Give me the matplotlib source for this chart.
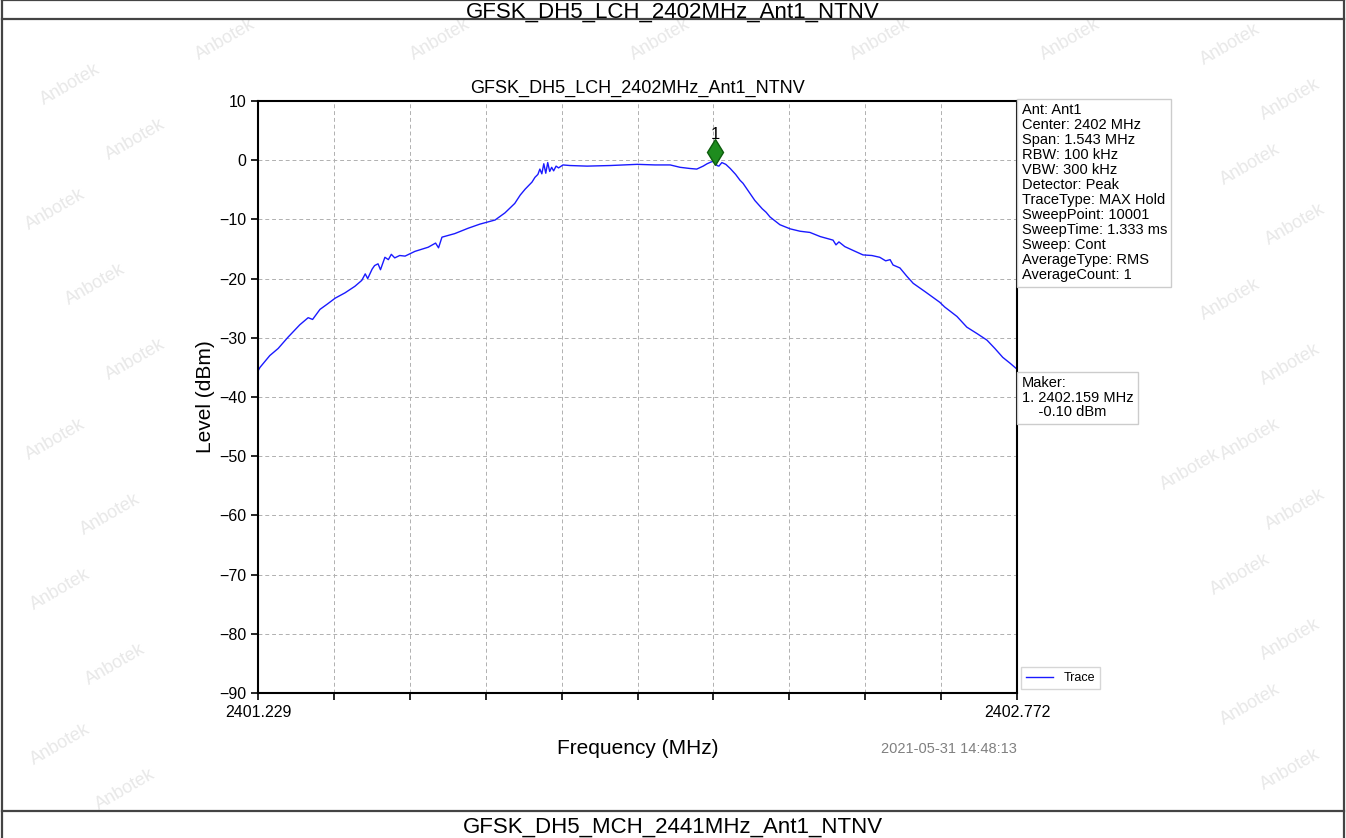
import matplotlib.pyplot as plt
from matplotlib.lines import Line2D

plt.rcParams['font.family'] = ['Liberation Sans', 'DejaVu Sans']

titulo = "GFSK_DH5_LCH_2402MHz_Ant1_NTNV"
titulo_seguinte = "GFSK_DH5_MCH_2441MHz_Ant1_NTNV"

freq_inicio = 2401.229
freq_fim = 2402.772

freqs = [
    2401.229, 2401.233, 2401.253, 2401.270, 2401.290, 2401.314, 2401.331, 2401.340,
    2401.355, 2401.370, 2401.386, 2401.406, 2401.426, 2401.440, 2401.447, 2401.452,
    2401.461, 2401.466, 2401.473, 2401.478, 2401.487, 2401.494, 2401.500, 2401.507,
    2401.517, 2401.528, 2401.548, 2401.575, 2401.590, 2401.596, 2401.603, 2401.629,
    2401.656, 2401.680, 2401.711, 2401.731, 2401.751, 2401.762, 2401.772, 2401.786,
    2401.792, 2401.798, 2401.802, 2401.806, 2401.810, 2401.814, 2401.818, 2401.822,
    2401.826, 2401.830, 2401.835, 2401.840, 2401.849, 2401.863, 2401.898, 2401.945,
    2402.000, 2402.036, 2402.067, 2402.087, 2402.107, 2402.121, 2402.134, 2402.142,
    2402.150, 2402.158, 2402.162, 2402.166, 2402.172, 2402.180, 2402.189, 2402.200,
    2402.209, 2402.215, 2402.239, 2402.254, 2402.262, 2402.270, 2402.290, 2402.311,
    2402.331, 2402.351, 2402.372, 2402.398, 2402.404, 2402.410, 2402.422, 2402.443,
    2402.459, 2402.477, 2402.493, 2402.505, 2402.514, 2402.520, 2402.534, 2402.548,
    2402.561, 2402.585, 2402.615, 2402.625, 2402.636, 2402.650, 2402.670, 2402.691,
    2402.711, 2402.727, 2402.743, 2402.758, 2402.772,
]
niveis = [
    -35.6, -35.0, -33.0, -31.8, -29.9, -27.8, -26.6, -26.9,
    -25.2, -24.3, -23.3, -22.4, -21.3, -20.3, -19.2, -20.0,
    -18.4, -17.8, -17.5, -18.5, -16.4, -16.8, -15.9, -16.5,
    -16.1, -16.2, -15.4, -14.7, -14.0, -14.8, -13.0, -12.4,
    -11.5, -10.8, -10.1, -8.9, -7.3, -5.9, -4.9, -3.7,
    -2.9, -2.4, -1.5, -2.3, -0.6, -2.2, -0.4, -1.9,
    -1.2, -1.8, -1.0, -1.3, -0.8, -0.9, -1.0, -0.9,
    -0.7, -0.8, -0.8, -1.2, -1.4, -1.5, -1.0, -0.6,
    -0.3, -0.1, -0.9, -1.0, -0.4, -0.7, -1.4, -2.4,
    -3.4, -3.9, -6.8, -8.2, -8.8, -9.6, -10.9, -11.6,
    -12.0, -12.2, -12.9, -13.5, -14.3, -13.8, -14.6, -15.4,
    -16.0, -16.1, -16.4, -17.0, -16.8, -17.7, -18.2, -19.6,
    -20.8, -22.2, -24.0, -24.8, -25.5, -26.4, -28.2, -29.3,
    -30.4, -31.8, -33.3, -34.3, -35.3,
]

marker_freq = 2402.159
marker_nivel = -0.10

info = ["Ant: Ant1", "Center: 2402 MHz", "Span: 1.543 MHz", "RBW: 100 kHz", "VBW: 300 kHz",
        "Detector: Peak", "TraceType: MAX Hold", "SweepPoint: 10001", "SweepTime: 1.333 ms",
        "Sweep: Cont", "AverageType: RMS", "AverageCount: 1"]
data_hora = "2021-05-31 14:48:13"

marcas_dagua = [
    (70, 85), (135, 140), (55, 210), (95, 285), (135, 360), (55, 440), (110, 515),
    (60, 590), (115, 665), (60, 745), (125, 790), (225, 40), (440, 40), (660, 40),
    (880, 40), (1070, 40), (1230, 45), (1290, 100), (1250, 165), (1295, 225),
    (1230, 300), (1290, 365), (1250, 440), (1295, 510), (1240, 575), (1290, 640),
    (1250, 705), (1290, 770), (1190, 470),
]

W, H = 1346, 838
fig = plt.figure(figsize=(W / 100, H / 100), dpi=100, facecolor='white')

# marca d'agua
for (px, py) in marcas_dagua:
    fig.text(px / W, 1 - py / H, "Anbotek", rotation=30, fontsize=13, color='#e8e8e8',
             ha='center', va='center', zorder=0)

# moldura da tabela
cor_moldura = '#444444'
for y in [0.5, 19, 811]:
    fig.add_artist(Line2D([2 / W, 1344 / W], [1 - y / H, 1 - y / H], color=cor_moldura, lw=1.6))
for x in [2, 1344]:
    fig.add_artist(Line2D([x / W, x / W], [0, 1], color=cor_moldura, lw=1.6))
fig.text(0.5, 1 - 17.5 / H, titulo, ha='center', va='baseline', fontsize=16)
fig.text(0.5, 1 - 833 / H, titulo_seguinte, ha='center', va='baseline', fontsize=16)

ax = fig.add_axes([258 / W, 1 - 693 / H, 759 / W, 592 / H])
ax.set_facecolor('white')
ax.set_zorder(2)

ax.plot(freqs, niveis, color='#1a1aff', lw=1.0, label='Trace')
ax.plot([marker_freq], [marker_nivel + 1.5], marker='d', markersize=13, color='#1e8c1e',
        markeredgecolor='#0d5c0d', linestyle='none')
ax.text(marker_freq, marker_nivel + 3.2, "1", ha='center', va='bottom', fontsize=12)

ax.set_xlim(freq_inicio, freq_fim)
ax.set_ylim(-90, 10)
passo = (freq_fim - freq_inicio) / 10
ticks_x = [freq_inicio + i * passo for i in range(11)]
ax.set_xticks(ticks_x)
ax.set_xticklabels(["2401.229"] + [""] * 9 + ["2402.772"])
ax.set_yticks(range(-90, 11, 10))
ax.tick_params(axis='both', labelsize=11.5, length=5, width=1.2, direction='out')
ax.grid(True, linestyle=(0, (4, 3)), color='#b0b0b0', lw=0.7)
for s in ax.spines.values():
    s.set_linewidth(1.5)

ax.set_title(titulo, fontsize=13, pad=6)
ax.set_xlabel("Frequency (MHz)", fontsize=15, labelpad=14)
ax.set_ylabel("Level (dBm)", fontsize=15, labelpad=3)

ax.text(1.0, -0.094, data_hora, transform=ax.transAxes, ha='right', va='center',
        fontsize=10.5, color='#808080')

ax.text(1.006, 0.996, "\n".join(info), transform=ax.transAxes, ha='left', va='top',
        fontsize=10.5, linespacing=1.09,
        bbox=dict(boxstyle='square,pad=0.3', fc='white', ec='#cccccc', lw=1))

ax.text(1.006, 0.535, "Maker:\n1. %.3f MHz\n    %.2f dBm" % (marker_freq, marker_nivel),
        transform=ax.transAxes, ha='left', va='top', fontsize=10.5, linespacing=1.05,
        bbox=dict(boxstyle='square,pad=0.3', fc='white', ec='#cccccc', lw=1))

ax.legend(loc='lower left', bbox_to_anchor=(1.0, 0.0), fontsize=9, handlelength=2.2,
          fancybox=False, edgecolor='#cccccc', borderaxespad=0.3)

fig.savefig('out.png', dpi=100, facecolor='white')
